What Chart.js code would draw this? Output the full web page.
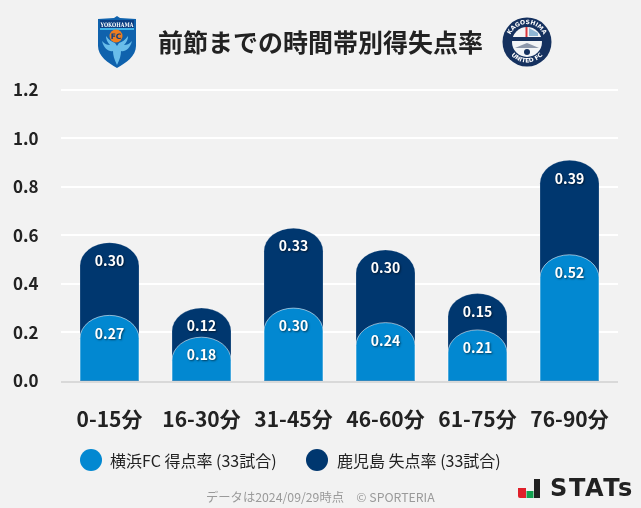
<!DOCTYPE html>
<html lang="ja">
<head>
<meta charset="utf-8">
<script src="https://cdn.jsdelivr.net/npm/chart.js@4"></script>
<style>
html,body{margin:0;padding:0;background:#f2f2f2;font-family:"Noto Sans CJK JP","Noto Sans",sans-serif}
#wrap{position:relative;width:641px;height:508px;overflow:hidden}
canvas{position:absolute;left:0;top:0}
svg{position:absolute}
.abs{position:absolute;white-space:nowrap}
.dot{position:absolute;width:22px;height:22px;border-radius:50%}
</style>
</head>
<body>
<div id="wrap">
  <canvas id="chart" width="641" height="508"></canvas>
  <div class="abs" id="title" style="left:158px;top:22px;font-size:25px;line-height:38px;font-weight:bold;color:#222"></div>
  <svg style="left:95px;top:15px" width="44" height="54" viewBox="0 0 44 54">
    <path d="M22 1l3 2 16 1v27c0 10-10 17-19 22C13 48 3 41 3 31V4l16-1z" fill="#0f62ad"/>
    <path d="M5 5h34v8H5z" fill="#0b3f83"/>
    <path d="M5 13h34v2H5z" fill="#3fb2e8"/>
    <text x="22" y="11.5" text-anchor="middle" font-family="DejaVu Serif" font-weight="bold" font-size="6.2" fill="#fff" textLength="33" lengthAdjust="spacingAndGlyphs">YOKOHAMA</text>
    <path d="M22 50c-3-6-4-10-4-14-4 1-9-2-11-10 3 3 5 4 8 4-3-3-4-6-4-9 3 4 6 6 9 7l2 3 2-3c3-1 6-3 9-7 0 3-1 6-4 9 3 0 5-1 8-4-2 8-7 11-11 10 0 4-1 8-4 14z" fill="#69bdea"/>
    <circle cx="21" cy="21" r="6.5" fill="#ee7d1f"/>
    <text x="21" y="24" text-anchor="middle" font-family="DejaVu Sans" font-weight="bold" font-size="7.5" fill="#0b3f83">FC</text>
  </svg>
  <svg style="left:502px;top:17px" width="50" height="50" viewBox="0 0 50 50">
    <circle cx="25" cy="25" r="24.5" fill="#15315f"/>
    <circle cx="25" cy="25" r="15" fill="#f2f4f7"/>
    <rect x="10" y="20" width="30" height="4" fill="#15315f"/>
    <rect x="23.5" y="10" width="2" height="10" fill="#d9363e"/>
    <path d="M27 11l9 5v3h-9z" fill="#8fb6d6"/>
    <path d="M13 31l7-3 5-2 5 2 7 3z" fill="#8c97ab"/>
    <circle cx="25" cy="35" r="3" fill="#15315f"/>
    <defs>
      <path id="arcTop" d="M7 25a18 18 0 0 1 36 0"/>
      <path id="arcBot" d="M4.5 25a20.5 20.5 0 0 0 41 0"/>
    </defs>
    <text font-family="DejaVu Sans" font-weight="bold" font-size="6" fill="#fff"><textPath href="#arcTop" startOffset="50%" text-anchor="middle">KAGOSHIMA</textPath></text>
    <text font-family="DejaVu Sans" font-weight="bold" font-size="6" fill="#fff"><textPath href="#arcBot" startOffset="50%" text-anchor="middle">UNITED FC</textPath></text>
  </svg>
  <div id="legend"></div>
  <div class="abs" style="left:206px;top:488px;font-size:12.3px;line-height:18px;color:#9a9a9a">データは2024/09/29時点　© SPORTERIA</div>
  <svg style="left:516px;top:476px" width="26" height="24" viewBox="0 0 26 24">
    <path d="M2 12h8v10H4a2 2 0 0 1-2-2z" fill="#e0202a"/>
    <rect x="10.5" y="15" width="7" height="7" fill="#12a150"/>
    <rect x="18" y="3" width="6" height="19" fill="#222"/>
  </svg>
  <div class="abs" style="left:550px;top:472px;font-family:'DejaVu Sans';font-weight:bold;font-size:24px;line-height:32px;letter-spacing:1.6px;color:#222">STATs</div>
</div>
<script>
const titleText = '前節までの時間帯別得失点率'
const periods = ['0-15分','16-30分','31-45分','46-60分','61-75分','76-90分']
const scored = [0.27,0.18,0.30,0.24,0.21,0.52]
const conceded = [0.30,0.12,0.33,0.30,0.15,0.39]
const yTicks = [0,0.2,0.4,0.6,0.8,1.0,1.2]
const scoredName = '横浜FC 得点率 (33試合)'
const concededName = '鹿児島 失点率 (33試合)'
const scoredColor = '#0288d1'
const concededColor = '#00376f'

// dark bar sits behind the light one and reaches the sum of both
const totals = scored.map((v,i)=>v+conceded[i])

document.getElementById('title').textContent = titleText

// legend is plain html so it can sit off centre like the original
const legendItems = [
    {name:scoredName,color:scoredColor,dot:80,text:110},
    {name:concededName,color:concededColor,dot:306,text:337}
]
legendItems.forEach(item=>{
    const dot = document.createElement('div')
    dot.className = 'dot'
    dot.style.cssText = `left:${item.dot}px;top:449px;background:${item.color}`
    const label = document.createElement('div')
    label.className = 'abs'
    label.style.cssText = `left:${item.text}px;top:449px;font-size:16px;line-height:22px;color:#222`
    label.textContent = item.name
    document.getElementById('legend').append(dot,label)
})

// bars have an elliptical top, borderRadius can only do circles
Chart.BarElement.prototype.draw = function(ctx){
    const {x,y,base,width} = this.getProps(['x','y','base','width'])
    const rx = width/2
    const ry = Math.min(23,base-y)
    ctx.save()
    ctx.beginPath()
    ctx.moveTo(x-rx,base)
    ctx.lineTo(x-rx,y+ry)
    ctx.ellipse(x,y+ry,rx,ry,0,Math.PI,2*Math.PI)
    ctx.lineTo(x+rx,base)
    ctx.fillStyle = this.options.backgroundColor
    ctx.fill()
    ctx.lineWidth = this.options.borderWidth
    ctx.strokeStyle = this.options.borderColor
    ctx.stroke()
    ctx.restore()
}

// the rows run a little wider than the category band, so draw them by hand from the y scale
const rowLines = {
    id:'rowLines',
    beforeDatasetsDraw(chart){
        const ctx = chart.ctx
        const yScale = chart.scales.y
        ctx.save()
        yScale.ticks.forEach(tick=>{
            const py = Math.round(yScale.getPixelForValue(tick.value))
            ctx.fillStyle = tick.value===0?'#d9d9d9':'#ffffff'
            ctx.fillRect(61,tick.value===0?py:py-1,557,2)
        })
        ctx.restore()
    }
}

const barLabels = {
    id:'barLabels',
    afterDatasetsDraw(chart){
        const ctx = chart.ctx
        const sources = [scored,conceded]
        ctx.save()
        ctx.font = 'bold 14px "Noto Sans CJK JP"'
        ctx.textAlign = 'center'
        ctx.textBaseline = 'middle'
        ctx.fillStyle = '#fff'
        ctx.shadowColor = 'rgba(0,0,0,0.55)'
        ctx.shadowBlur = 2
        ctx.shadowOffsetX = 1
        ctx.shadowOffsetY = 1
        sources.forEach((values,d)=>{
            chart.getDatasetMeta(d).data.forEach((bar,i)=>{
                ctx.fillText(values[i].toFixed(2),bar.x,bar.y+18)
            })
        })
        ctx.restore()
    }
}

new Chart(document.getElementById('chart'),{
    type:'bar',
    plugins:[rowLines,barLabels],
    data:{
        labels:periods,
        datasets:[
            {label:scoredName,data:scored,backgroundColor:scoredColor,borderColor:'rgba(255,255,255,0.55)',borderWidth:1,order:1},
            {label:concededName,data:totals,backgroundColor:concededColor,borderColor:'rgba(255,255,255,0.2)',borderWidth:1,order:2}
        ]
    },
    options:{
        responsive:false,
        animation:false,
        layout:{padding:{top:90,right:25.5,bottom:58,left:0}},
        datasets:{bar:{barThickness:59}},
        plugins:{
            legend:{display:false},
            tooltip:{enabled:false}
        },
        scales:{
            x:{
                stacked:true,
                grid:{display:false},
                border:{display:false},
                ticks:{color:'#222',padding:18,font:{family:'"Noto Sans CJK JP"',weight:'bold',size:21},maxRotation:0}
            },
            y:{
                min:0,
                max:1.2,
                afterBuildTicks(axis){axis.ticks = yTicks.map(value=>({value}))},
                afterFit(axis){axis.width = 63.5},
                grid:{display:false},
                border:{display:false},
                ticks:{
                    color:'#222',
                    padding:17,
                    font:{family:'"Noto Sans CJK JP"',weight:'bold',size:17},
                    callback:v=>v.toFixed(1)
                }
            }
        }
    }
})
</script>
</body>
</html>
